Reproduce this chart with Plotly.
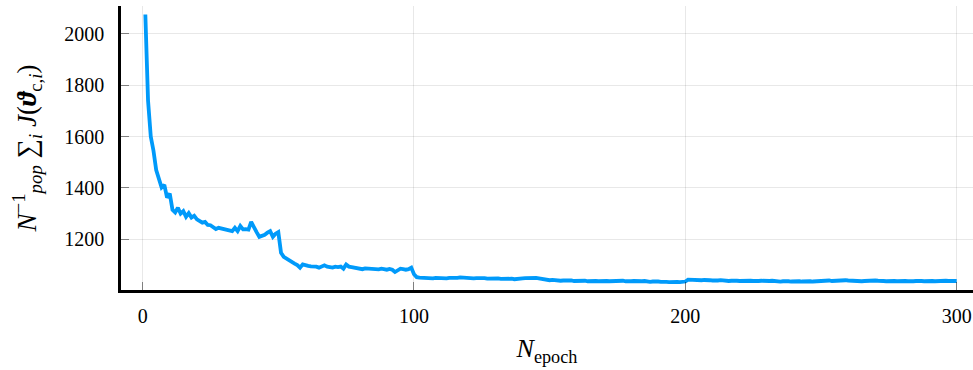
import plotly.graph_objects as go

# Mean population cost per epoch
epochs = list(range(1, 301))
mean_cost = [
    2075, 1740, 1600, 1545, 1470, 1440, 1402, 1412, 1362, 1378,
    1315, 1305, 1323, 1300, 1310, 1288, 1302, 1285, 1292, 1278,
    1270, 1265, 1268, 1256, 1255, 1246, 1240, 1245, 1243, 1240,
    1238, 1236, 1232, 1245, 1232, 1252, 1239, 1240, 1238, 1268,
    1245, 1228, 1210, 1214, 1218, 1226, 1232, 1210, 1222, 1228,
    1148, 1132, 1125, 1116, 1112, 1106, 1100, 1090, 1103, 1098,
    1097, 1095, 1096, 1094, 1090, 1093, 1099, 1094, 1092, 1090,
    1094, 1092, 1094, 1086, 1102, 1094, 1092, 1090, 1090, 1088,
    1084, 1087, 1086, 1083, 1085, 1084, 1083, 1086, 1084, 1082,
    1085, 1082, 1073, 1078, 1086, 1084, 1082, 1084, 1090, 1064,
    1053, 1051, 1050, 1051, 1049, 1050, 1048, 1050, 1049, 1050,
    1049, 1048, 1050, 1049, 1051, 1050, 1052, 1051, 1049, 1050,
    1049, 1048, 1049, 1050, 1048, 1049, 1047, 1048, 1049, 1047,
    1048, 1046, 1047, 1048, 1046, 1047, 1045, 1047, 1046, 1048,
    1049, 1050, 1051, 1049, 1050, 1048, 1046, 1044, 1043, 1041,
    1042, 1040, 1041, 1039, 1040, 1041, 1039, 1040, 1038, 1039,
    1040, 1038, 1039, 1037, 1038, 1039, 1038, 1037, 1038, 1039,
    1038, 1037, 1038, 1036, 1037, 1038, 1039, 1037, 1036, 1037,
    1038, 1037, 1036, 1037, 1038, 1036, 1035, 1036, 1037, 1036,
    1035, 1036, 1035, 1034, 1035, 1036, 1035, 1034, 1035, 1036,
    1043, 1042, 1041, 1042, 1040, 1041, 1042, 1040, 1041, 1040,
    1039, 1040, 1041, 1039, 1040, 1038, 1039, 1040, 1039, 1038,
    1039, 1040, 1038, 1039, 1038, 1037, 1038, 1039, 1038, 1037,
    1038, 1039, 1037, 1038, 1036, 1037, 1038, 1037, 1036, 1037,
    1038, 1037, 1036, 1037, 1038, 1037, 1036, 1037, 1038, 1039,
    1038, 1039, 1040, 1038, 1039, 1040, 1039, 1040, 1041, 1040,
    1039, 1038, 1039, 1038, 1037, 1038, 1039, 1038, 1039, 1040,
    1039, 1040, 1038, 1037, 1038, 1037, 1038, 1037, 1038, 1039,
    1038, 1037, 1036, 1037, 1038, 1039, 1038, 1037, 1038, 1037,
    1038, 1037, 1038, 1039, 1038, 1039, 1038, 1037, 1038, 1038,
]

x_ticks = [0, 100, 200, 300]
y_ticks = [1200, 1400, 1600, 1800, 2000]

FONT = "Liberation Serif, DejaVu Serif, serif"

fig = go.Figure(
    go.Scatter(
        x=epochs,
        y=mean_cost,
        mode="lines",
        line=dict(color="#009AFA", width=3.8),
        showlegend=False,
    )
)

axis_common = dict(
    showgrid=True,
    gridcolor="rgba(0,0,0,0.09)",
    gridwidth=1,
    zeroline=False,
    showline=True,
    linecolor="black",
    linewidth=2.5,
    ticks="inside",
    ticklen=8,
    tickwidth=1,
    tickcolor="rgba(0,0,0,0.45)",
    tickfont=dict(family=FONT, size=20, color="black"),
)

fig.update_layout(
    width=973,
    height=370,
    margin=dict(l=121, r=0, t=6, b=80),
    paper_bgcolor="white",
    plot_bgcolor="white",
    font=dict(family=FONT, color="black"),
    xaxis=dict(
        range=[-7.97, 306.0],
        tickvals=x_ticks,
        ticktext=[str(v) for v in x_ticks],
        ticklabelstandoff=6,
        title=dict(
            text="<i>N</i><sub>epoch</sub>",
            font=dict(family=FONT, size=26),
            standoff=14,
        ),
        **axis_common,
    ),
    yaxis=dict(
        range=[1003, 2108],
        tickvals=y_ticks,
        ticktext=[str(v) for v in y_ticks],
        ticklabelstandoff=10,
        title=dict(
            text="<i>N</i><sup>−1</sup><sub><i>pop</i></sub> ∑<sub><i>i</i></sub> <i>J</i>(<b><i>ϑ</i></b><sub>c,<i>i</i></sub>)",
            font=dict(family=FONT, size=27),
            standoff=20,
        ),
        **axis_common,
    ),
)

fig.write_html("out.html")
